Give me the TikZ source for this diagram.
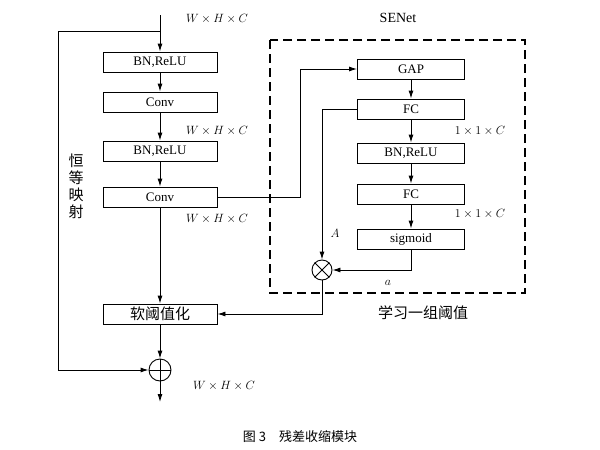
\documentclass[tikz,border=0pt]{standalone}
\usepackage{fontspec}
\setmainfont{Liberation Serif}
\newfontfamily\cjk{Noto Sans CJK SC}
\usetikzlibrary{arrows.meta}
\begin{document}
\begin{tikzpicture}[x=1pt,y=-1pt,
  box/.style={draw,line width=0.9pt,minimum height=20pt,inner sep=0pt,font=\fontsize{13}{13}\selectfont},
  lb/.style={draw,minimum width=114pt},
  rb/.style={draw,minimum width=107pt},
  ar/.style={-{Latex[length=8pt,width=5pt]},line width=0.9pt},
  ln/.style={line width=0.9pt},
  dim/.style={font=\fontsize{13}{13}\selectfont}]
\useasboundingbox (0,0) rectangle (600,450);
\coordinate (in) at (160,15);
\node[box,lb] (b1) at (160,62) {BN,ReLU};
\node[box,lb] (c1) at (160,102) {Conv};
\node[box,lb] (b2) at (160,151) {BN,ReLU};
\node[box,lb] (c2) at (160,197) {Conv};
\node[box,lb,font=\cjk\fontsize{15}{15}\selectfont] (st) at (160,314) {软阈值化};
\node[draw,circle,ln,minimum size=22pt,inner sep=0pt] (pl) at (160,370) {};
\draw[ln] (pl.north)--(pl.south) (pl.west)--(pl.east);
\coordinate (out) at (160,402);
\node[dim] (d1) at (217,19) {$W\times H\times C$};
\node[dim] (d2) at (217,131) {$W\times H\times C$};
\node[dim] (d3) at (217,219) {$W\times H\times C$};
\node[dim] (d4) at (224,386) {$W\times H\times C$};
\draw[ar] (in)--(b1);
\draw[ar] (b1)--(c1);
\draw[ar] (c1)--(b2);
\draw[ar] (b2)--(c2);
\draw[ar] (c2)--(st);
\draw[ar] (st)--(pl);
\draw[ar] (pl)--(out);
\coordinate (t0) at (160,31);
\draw[ar] (t0)-|(58,370)--(pl.west);
\node[font=\cjk\fontsize{15}{17}\selectfont,align=center,inner sep=0pt] (id) at (76,186) {恒\\等\\映\\射};
\draw[line width=1.8pt,dash pattern=on 9pt off 5pt] (270,40) rectangle (525,293);
\node[font=\fontsize{14}{14}\selectfont] (se) at (398,18) {SENet};
\node[box,rb] (gap) at (411,69) {GAP};
\node[box,rb] (f1) at (411,109) {FC};
\node[box,rb] (b3) at (411,153) {BN,ReLU};
\node[box,rb] (f2) at (411,194) {FC};
\node[box,rb] (sg) at (411,239) {sigmoid};
\node[draw,circle,ln,minimum size=20pt,inner sep=0pt] (mu) at (322,270) {};
\draw[ln] (mu.north west)--(mu.south east) (mu.north east)--(mu.south west);
\draw[ar] (c2.east)-|(300,69)--(gap.west);
\draw[ar] (gap)--(f1);
\draw[ar] (f1)--(b3);
\draw[ar] (b3)--(f2);
\draw[ar] (f2)--(sg);
\draw[ar] (f1.west)-|(mu.north);
\draw[ar] (sg.south)|-(mu.east);
\draw[ar] (mu.south)|-(st.east);
\node[dim] (o1) at (480,131) {$1\times1\times C$};
\node[dim] (o2) at (480,214) {$1\times1\times C$};
\node[dim] (la) at (335,233) {$A$};
\node[dim] (lsa) at (388,283) {$a$};
\node[font=\cjk\fontsize{15}{15}\selectfont] (lt) at (423,313) {学习一组阈值};
\node[font=\cjk\fontsize{13}{13}\selectfont] (cap) at (300,437) {图 3\quad 残差收缩模块};
\end{tikzpicture}
\end{document}
